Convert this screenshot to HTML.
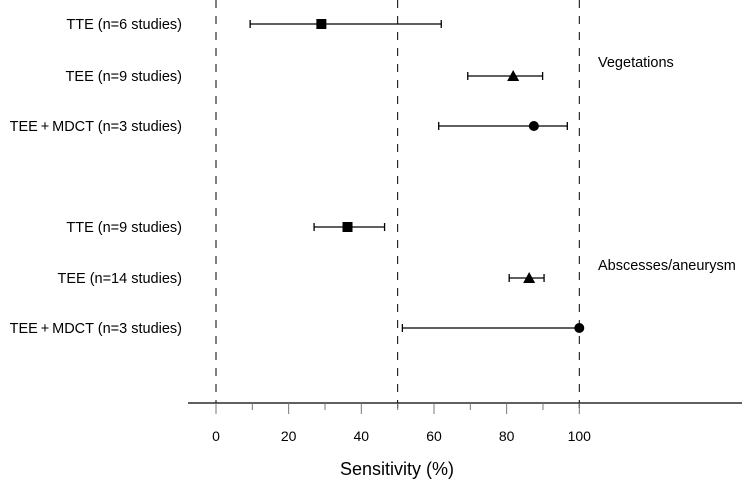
<!DOCTYPE html>
<html><head><meta charset="utf-8"><style>
body{margin:0;background:#fff;}
svg text{font-family:"Liberation Sans",Arial,sans-serif;fill:#000;}
</style></head><body>
<svg id="chart" width="742" height="482" xmlns="http://www.w3.org/2000/svg"></svg>
<script>
const labels = ["TTE (n=6 studies)","TEE (n=9 studies)","TEE\u2009+\u2009MDCT (n=3 studies)","TTE (n=9 studies)","TEE (n=14 studies)","TEE\u2009+\u2009MDCT (n=3 studies)"];
const estimates = [29, 81.8, 87.5, 36.2, 86.2, 100];
const lowers = [9.4, 69.3, 61.3, 27, 80.7, 51.3];
const uppers = [62, 89.9, 96.7, 46.4, 90.3, 100];
const shapes = ["square","triangle","circle","square","triangle","circle"];
const rowPos = [24, 76, 126, 227, 278, 328];
const ticks = [0,10,20,30,40,50,60,70,80,90,100];
const refLines = [0,50,100];
const groups = ["Vegetations","Abscesses/aneurysm"];
const groupY = [62, 265];

const NS="http://www.w3.org/2000/svg";
const svg=document.getElementById('chart');
const X=v=>216+v*3.633;
function mk(t,a,p){const e=document.createElementNS(NS,t);for(const k in a)e.setAttribute(k,a[k]);(p||svg).appendChild(e);return e;}
const axisY=403;
refLines.forEach(v=>{
  const l=mk('line',{x1:X(v),x2:X(v),y1:0,y2:415,stroke:'#000','stroke-width':1,'stroke-dasharray':'8,8'});
  
  
});
const ax=mk('line',{x1:188,x2:742,y1:axisY,y2:axisY,stroke:'#000','stroke-width':1.3});


ticks.forEach(t=>{
  const major=t%20===0;
  const tl=mk('line',{x1:X(t),x2:X(t),y1:axisY,y2:axisY+(major?11:7),stroke:'#777','stroke-width':1});
  
  
  if(major){
    const tx=mk('text',{x:X(t),y:441,'text-anchor':'middle','font-size':14});
    tx.textContent=t;
    
    
  }
});
const title=mk('text',{x:397,y:475,'text-anchor':'middle','font-size':18});
title.textContent='Sensitivity (%)';


labels.forEach((lab,i)=>{
  const y=rowPos[i];
  const t=mk('text',{x:182,y:y+5,'text-anchor':'end','font-size':14.5});
  t.textContent=lab;
  
  
  const g=mk('g',{});
  
  
  const x1=X(lowers[i]),x2=X(uppers[i]);
  mk('line',{x1:x1,x2:x2,y1:y,y2:y,stroke:'#000','stroke-width':1.3},g);
  mk('line',{x1:x1,x2:x1,y1:y-4,y2:y+4,stroke:'#000','stroke-width':1.3},g);
  mk('line',{x1:x2,x2:x2,y1:y-4,y2:y+4,stroke:'#000','stroke-width':1.3},g);
  const cx=X(estimates[i]);
  let m;
  if(shapes[i]==='square') m=mk('rect',{x:cx-5,y:y-5,width:10,height:10,fill:'#000'},g);
  else if(shapes[i]==='circle') m=mk('circle',{cx:cx,cy:y,r:5,fill:'#000'},g);
  else m=mk('polygon',{points:`${cx},${y-6} ${cx-6},${y+5} ${cx+6},${y+5}`,fill:'#000'},g);
  
  
});
groups.forEach((gname,i)=>{
  const t=mk('text',{x:598,y:groupY[i]+5,'font-size':14.5});
  t.textContent=gname;
  
  
});
</script>
</body></html>
